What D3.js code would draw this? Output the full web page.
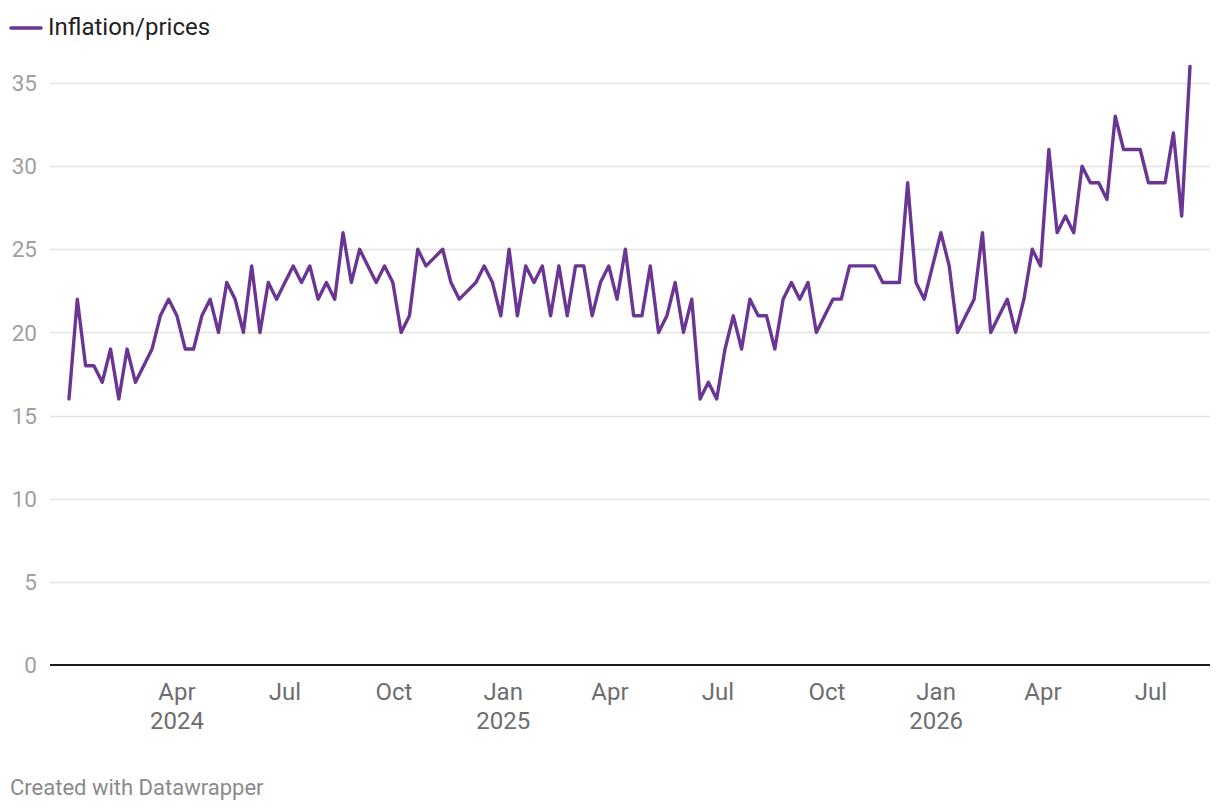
<!DOCTYPE html>
<html>
<head>
<meta charset="utf-8">
<script src="https://cdn.jsdelivr.net/npm/d3@7"></script>
<style>
  html, body { margin: 0; padding: 0; background: #fff; }
  svg { display: block; font-family: Roboto, "Noto Sans", sans-serif; }
</style>
</head>
<body>
<svg id="chart" width="1220" height="812"></svg>
<script>
// ---- data ----
const seriesName = "Inflation/prices";
const startDate = "2024-01-01";
const values = [
  16, 22, 18, 18, 17, 19, 16, 19, 17, 18,
  19, 21, 22, 21, 19, 19, 21, 22, 20, 23,
  22, 20, 24, 20, 23, 22, 23, 24, 23, 24,
  22, 23, 22, 26, 23, 25, 24, 23, 24, 23,
  20, 21, 25, 24, 24.5, 25, 23, 22, 22.5, 23,
  24, 23, 21, 25, 21, 24, 23, 24, 21, 24,
  21, 24, 24, 21, 23, 24, 22, 25, 21, 21,
  24, 20, 21, 23, 20, 22, 16, 17, 16, 19,
  21, 19, 22, 21, 21, 19, 22, 23, 22, 23,
  20, 21, 22, 22, 24, 24, 24, 24, 23, 23,
  23, 29, 23, 22, 24, 26, 24, 20, 21, 22,
  26, 20, 21, 22, 20, 22, 25, 24, 31, 26,
  27, 26, 30, 29, 29, 28, 33, 31, 31, 31,
  29, 29, 29, 32, 27, 36
];
const yTicks = [0, 5, 10, 15, 20, 25, 30, 35];
const xTickDates = ["2024-04-01","2024-07-01","2024-10-01","2025-01-01","2025-04-01","2025-07-01","2025-10-01","2026-01-01","2026-04-01","2026-07-01"];
const xTickMonths = ["Apr","Jul","Oct","Jan","Apr","Jul","Oct","Jan","Apr","Jul"];
const xTickYears  = ["2024","","","2025","","","","2026","",""];
const lineColor = "#6a3593";

// ---- build ----
const parse = d3.utcParse("%Y-%m-%d");
const start = parse(startDate);
const dates = values.map((v, i) => d3.utcWeek.offset(start, i));
const data = values.map((v, i) => ({ date: dates[i], value: v }));

const svg = d3.select("#chart");

const x = d3.scaleUtc()
  .domain([dates[0], dates[dates.length - 1]])
  .range([69, 1190]);
const y = d3.scaleLinear().domain([0, 35]).range([665, 83]);

const gridLeft = 50, gridRight = 1210;

// grid lines
svg.append("g").selectAll("line")
  .data(yTicks.filter(t => t !== 0))
  .join("line")
  .attr("x1", gridLeft).attr("x2", gridRight)
  .attr("y1", d => Math.round(y(d)) + 0.5).attr("y2", d => Math.round(y(d)) + 0.5)
  .attr("stroke", "#e2e2e2").attr("stroke-width", 1.5);

// y labels
svg.append("g").selectAll("text")
  .data(yTicks)
  .join("text")
  .attr("x", 37).attr("y", d => y(d))
  .attr("dy", "0.36em")
  .attr("text-anchor", "end")
  .attr("fill", "#a0a0a0")
  .attr("font-size", 22.5)
  .text(d => d);

// baseline
svg.append("line")
  .attr("x1", gridLeft).attr("x2", gridRight)
  .attr("y1", y(0)).attr("y2", y(0))
  .attr("stroke", "#1a1a1a").attr("stroke-width", 2);

// x labels
const xg = svg.append("g");
xTickDates.forEach((ds, i) => {
  const xp = x(parse(ds));
  xg.append("text")
    .attr("x", xp).attr("y", 700)
    .attr("text-anchor", "middle")
    .attr("fill", "#6e6e6e")
    .attr("font-size", 24)
    .text(xTickMonths[i]);
  if (xTickYears[i]) {
    xg.append("text")
      .attr("x", xp).attr("y", 729)
      .attr("text-anchor", "middle")
      .attr("fill", "#6e6e6e")
      .attr("font-size", 24)
      .text(xTickYears[i]);
  }
});

// line
const line = d3.line()
  .x(d => x(d.date))
  .y(d => y(d.value));

svg.append("path")
  .datum(data)
  .attr("d", line)
  .attr("fill", "none")
  .attr("stroke", lineColor)
  .attr("stroke-width", 3.4)
  .attr("stroke-linejoin", "round")
  .attr("stroke-linecap", "round");

// legend
svg.append("line")
  .attr("x1", 11).attr("x2", 41)
  .attr("y1", 28).attr("y2", 28)
  .attr("stroke", lineColor).attr("stroke-width", 3.5)
  .attr("stroke-linecap", "round");
svg.append("text")
  .attr("x", 48).attr("y", 35)
  .attr("fill", "#222")
  .attr("font-size", 24)
  .text(seriesName);

// footer
svg.append("text")
  .attr("x", 10).attr("y", 795)
  .attr("fill", "#8a8a8a")
  .attr("font-size", 22)
  .text("Created with Datawrapper");
</script>
</body>
</html>
